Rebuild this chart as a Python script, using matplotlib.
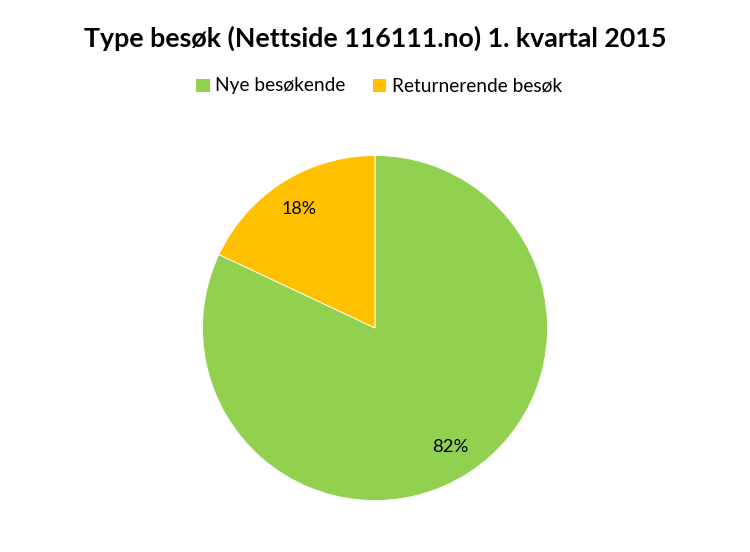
import matplotlib
matplotlib.use("Agg")
import matplotlib.pyplot as plt
from matplotlib.patches import Patch

title = "Type besøk (Nettside 116111.no) 1. kvartal 2015"
categories = ["Nye besøkende", "Returnerende besøk"]
values = [82, 18]
colors = ["#92D050", "#FFC000"]

plt.rcParams['font.family'] = ['Lato', 'DejaVu Sans']

fig = plt.figure(figsize=(7.5, 5.52), dpi=100)
ax = fig.add_axes([0.27, 0.0933, 0.46, 0.625])
wedges, texts = ax.pie(values, colors=colors, startangle=90, counterclock=False,
                       labels=[f"{v}%" for v in values], labeldistance=0.82,
                       wedgeprops=dict(edgecolor="white", linewidth=0.6),
                       textprops=dict(fontsize=13, color="black", ha="center", va="center"))
ax.set_aspect("equal")
ax.set_xlim(-1, 1)
ax.set_ylim(-1, 1)

t = fig.text(0.5, 1 - 38/552, title, ha="center", va="center", fontsize=20, fontweight="bold")
fig.canvas.draw()
w = t.get_window_extent(fig.canvas.get_renderer()).width
t.set_fontsize(20 * 583 / w)

handles = [Patch(facecolor=c, edgecolor="none") for c in colors]
leg = fig.legend(handles, categories, loc="center", bbox_to_anchor=(379/750, 1 - 86/552), ncol=2,
           frameon=False, fontsize=13, handlelength=0.75, handleheight=0.75,
           handletextpad=0.3, columnspacing=1.5)
fig.canvas.draw()
lt = leg.get_texts()[0]
lw = lt.get_window_extent(fig.canvas.get_renderer()).width
for tx in leg.get_texts():
    tx.set_fontsize(13 * 130 / lw)
for tx in texts:
    tx.set_fontsize(13 * 36 / texts[0].get_window_extent(fig.canvas.get_renderer()).width)

fig.savefig("out.png", dpi=100)
